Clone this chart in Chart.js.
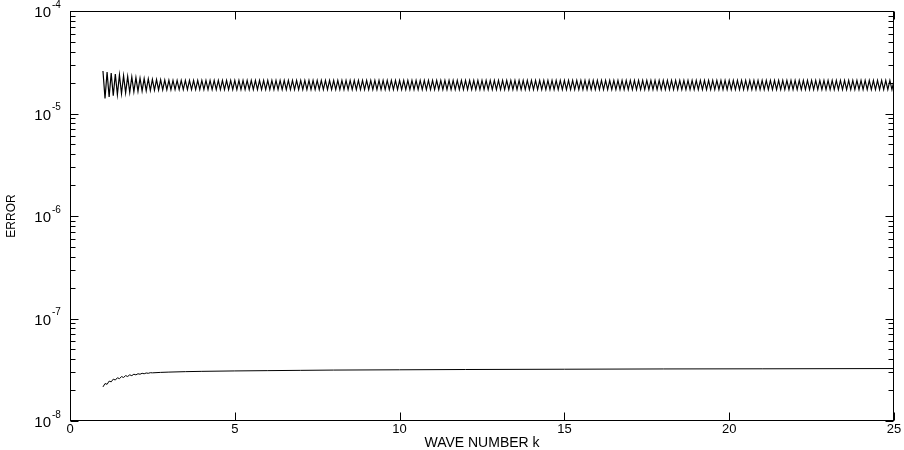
<!DOCTYPE html>
<html>
<head>
<meta charset="utf-8">
<script src="https://cdn.jsdelivr.net/npm/chart.js@4.4.1/dist/chart.umd.min.js"></script>
<style>
  html, body { margin: 0; padding: 0; background: #fff; }
  canvas { display: block; }
</style>
</head>
<body>
<canvas id="myChart" width="904" height="450"></canvas>
<script>
// upper curve: error sampled every 0.0625 in k, starting at k = 1
const kStart = 1;
const kStep = 0.0625;
const errUpper = [
  2.60e-5, 1.40e-5, 2.54e-5, 1.45e-5, 2.48e-5, 1.49e-5, 2.43e-5, 1.53e-5,
  2.38e-5, 1.56e-5, 2.34e-5, 1.59e-5, 2.30e-5, 1.61e-5, 2.27e-5, 1.63e-5,
  2.24e-5, 1.65e-5, 2.21e-5, 1.66e-5, 2.19e-5, 1.67e-5, 2.17e-5, 1.68e-5,
  2.15e-5, 1.69e-5, 2.14e-5, 1.70e-5, 2.13e-5, 1.70e-5, 2.12e-5, 1.71e-5,
  2.11e-5, 1.71e-5,
  2.10e-5, 1.71e-5, 2.10e-5, 1.71e-5, 2.10e-5, 1.71e-5, 2.10e-5, 1.71e-5, 2.10e-5, 1.71e-5, 2.10e-5, 1.71e-5, 2.10e-5, 1.71e-5, 2.10e-5, 1.71e-5,
  2.10e-5, 1.71e-5, 2.10e-5, 1.71e-5, 2.10e-5, 1.71e-5, 2.10e-5, 1.71e-5, 2.10e-5, 1.71e-5, 2.10e-5, 1.71e-5, 2.10e-5, 1.71e-5, 2.10e-5, 1.71e-5,
  2.10e-5, 1.71e-5, 2.10e-5, 1.71e-5, 2.10e-5, 1.71e-5, 2.10e-5, 1.71e-5, 2.10e-5, 1.71e-5, 2.10e-5, 1.71e-5, 2.10e-5, 1.71e-5, 2.10e-5, 1.71e-5,
  2.10e-5, 1.71e-5, 2.10e-5, 1.71e-5, 2.10e-5, 1.71e-5, 2.10e-5, 1.71e-5, 2.10e-5, 1.71e-5, 2.10e-5, 1.71e-5, 2.10e-5, 1.71e-5, 2.10e-5, 1.71e-5,
  2.10e-5, 1.71e-5, 2.10e-5, 1.71e-5, 2.10e-5, 1.71e-5, 2.10e-5, 1.71e-5, 2.10e-5, 1.71e-5, 2.10e-5, 1.71e-5, 2.10e-5, 1.71e-5, 2.10e-5, 1.71e-5,
  2.10e-5, 1.71e-5, 2.10e-5, 1.71e-5, 2.10e-5, 1.71e-5, 2.10e-5, 1.71e-5, 2.10e-5, 1.71e-5, 2.10e-5, 1.71e-5, 2.10e-5, 1.71e-5, 2.10e-5, 1.71e-5,
  2.10e-5, 1.71e-5, 2.10e-5, 1.71e-5, 2.10e-5, 1.71e-5, 2.10e-5, 1.71e-5, 2.10e-5, 1.71e-5, 2.10e-5, 1.71e-5, 2.10e-5, 1.71e-5, 2.10e-5, 1.71e-5,
  2.10e-5, 1.71e-5, 2.10e-5, 1.71e-5, 2.10e-5, 1.71e-5, 2.10e-5, 1.71e-5, 2.10e-5, 1.71e-5, 2.10e-5, 1.71e-5, 2.10e-5, 1.71e-5, 2.10e-5, 1.71e-5,
  2.10e-5, 1.71e-5, 2.10e-5, 1.71e-5, 2.10e-5, 1.71e-5, 2.10e-5, 1.71e-5, 2.10e-5, 1.71e-5, 2.10e-5, 1.71e-5, 2.10e-5, 1.71e-5, 2.10e-5, 1.71e-5,
  2.10e-5, 1.71e-5, 2.10e-5, 1.71e-5, 2.10e-5, 1.71e-5, 2.10e-5, 1.71e-5, 2.10e-5, 1.71e-5, 2.10e-5, 1.71e-5, 2.10e-5, 1.71e-5, 2.10e-5, 1.71e-5,
  2.10e-5, 1.71e-5, 2.10e-5, 1.71e-5, 2.10e-5, 1.71e-5, 2.10e-5, 1.71e-5, 2.10e-5, 1.71e-5, 2.10e-5, 1.71e-5, 2.10e-5, 1.71e-5, 2.10e-5, 1.71e-5,
  2.10e-5, 1.71e-5, 2.10e-5, 1.71e-5, 2.10e-5, 1.71e-5, 2.10e-5, 1.71e-5, 2.10e-5, 1.71e-5, 2.10e-5, 1.71e-5, 2.10e-5, 1.71e-5, 2.10e-5, 1.71e-5,
  2.10e-5, 1.71e-5, 2.10e-5, 1.71e-5, 2.10e-5, 1.71e-5, 2.10e-5, 1.71e-5, 2.10e-5, 1.71e-5, 2.10e-5, 1.71e-5, 2.10e-5, 1.71e-5, 2.10e-5, 1.71e-5,
  2.10e-5, 1.71e-5, 2.10e-5, 1.71e-5, 2.10e-5, 1.71e-5, 2.10e-5, 1.71e-5, 2.10e-5, 1.71e-5, 2.10e-5, 1.71e-5, 2.10e-5, 1.71e-5, 2.10e-5, 1.71e-5,
  2.10e-5, 1.71e-5, 2.10e-5, 1.71e-5, 2.10e-5, 1.71e-5, 2.10e-5, 1.71e-5, 2.10e-5, 1.71e-5, 2.10e-5, 1.71e-5, 2.10e-5, 1.71e-5, 2.10e-5, 1.71e-5,
  2.10e-5, 1.71e-5, 2.10e-5, 1.71e-5, 2.10e-5, 1.71e-5, 2.10e-5, 1.71e-5, 2.10e-5, 1.71e-5, 2.10e-5, 1.71e-5, 2.10e-5, 1.71e-5, 2.10e-5, 1.71e-5,
  2.10e-5, 1.71e-5, 2.10e-5, 1.71e-5, 2.10e-5, 1.71e-5, 2.10e-5, 1.71e-5, 2.10e-5, 1.71e-5, 2.10e-5, 1.71e-5, 2.10e-5, 1.71e-5, 2.10e-5, 1.71e-5,
  2.10e-5, 1.71e-5, 2.10e-5, 1.71e-5, 2.10e-5, 1.71e-5, 2.10e-5, 1.71e-5, 2.10e-5, 1.71e-5, 2.10e-5, 1.71e-5, 2.10e-5, 1.71e-5, 2.10e-5, 1.71e-5,
  2.10e-5, 1.71e-5, 2.10e-5, 1.71e-5, 2.10e-5, 1.71e-5, 2.10e-5, 1.71e-5, 2.10e-5, 1.71e-5, 2.10e-5, 1.71e-5, 2.10e-5, 1.71e-5, 2.10e-5, 1.71e-5,
  2.10e-5, 1.71e-5, 2.10e-5, 1.71e-5, 2.10e-5, 1.71e-5, 2.10e-5, 1.71e-5, 2.10e-5, 1.71e-5, 2.10e-5, 1.71e-5, 2.10e-5, 1.71e-5, 2.10e-5, 1.71e-5,
  2.10e-5, 1.71e-5, 2.10e-5, 1.71e-5, 2.10e-5, 1.71e-5, 2.10e-5, 1.71e-5, 2.10e-5, 1.71e-5, 2.10e-5, 1.71e-5, 2.10e-5, 1.71e-5, 2.10e-5, 1.71e-5,
  2.10e-5, 1.71e-5, 2.10e-5, 1.71e-5, 2.10e-5, 1.71e-5, 2.10e-5, 1.71e-5, 2.10e-5, 1.71e-5, 2.10e-5, 1.71e-5, 2.10e-5, 1.71e-5,
  2.10e-5
];

// lower curve
const kLower = [
  1, 1.0625, 1.125, 1.1875, 1.25, 1.3125, 1.375, 1.4375, 1.5, 1.5625,
  1.625, 1.6875, 1.75, 1.8125, 1.875, 1.9375, 2, 2.0625, 2.125, 2.1875,
  2.25, 2.3125, 2.375, 2.4375, 2.5, 2.75, 3, 3.5, 4, 5,
  6, 7, 8, 10, 12, 15, 18, 21, 25
];
const errLower = [
  2.15e-8, 2.32e-8, 2.28e-8, 2.45e-8, 2.41e-8, 2.56e-8, 2.51e-8, 2.64e-8, 2.59e-8, 2.71e-8,
  2.66e-8, 2.77e-8, 2.72e-8, 2.82e-8, 2.77e-8, 2.86e-8, 2.82e-8, 2.89e-8, 2.86e-8, 2.92e-8,
  2.89e-8, 2.94e-8, 2.92e-8, 2.96e-8, 2.95e-8, 2.98e-8, 3.00e-8, 3.03e-8, 3.05e-8, 3.08e-8,
  3.10e-8, 3.12e-8, 3.14e-8, 3.16e-8, 3.18e-8, 3.20e-8, 3.22e-8, 3.23e-8, 3.25e-8
];

// axis ticks
const xTickValues = [0, 5, 10, 15, 20, 25];
const yExponents = [-8, -7, -6, -5, -4];
const yMinorMult = [2, 3, 4, 5, 6, 7, 8, 9];

const upperPoints = errUpper.map((v, i) => ({ x: kStart + i * kStep, y: v }));
const lowerPoints = kLower.map((k, i) => ({ x: k, y: errLower[i] }));

const FONT = '"Liberation Sans", Arial, Helvetica, sans-serif';

// matlab style box with inward ticks and 10^n labels
const boxTicks = {
  id: 'boxTicks',
  afterDatasetsDraw(chart) {
    const { ctx, chartArea: a, scales: { x, y } } = chart;
    const L = Math.round(a.left) + 0.5, R = Math.round(a.right) - 0.5;
    const T = Math.round(a.top) + 0.5, B = Math.round(a.bottom) - 0.5;
    ctx.save();
    ctx.strokeStyle = '#000';
    ctx.lineWidth = 1;
    ctx.beginPath();
    xTickValues.forEach(v => {
      const px = Math.round(x.getPixelForValue(v)) + 0.5;
      ctx.moveTo(px, B); ctx.lineTo(px, B - 8);
      ctx.moveTo(px, T); ctx.lineTo(px, T + 8);
    });
    yExponents.forEach(e => {
      const py = Math.round(y.getPixelForValue(Math.pow(10, e))) + 0.5;
      ctx.moveTo(L, py); ctx.lineTo(L + 8, py);
      ctx.moveTo(R, py); ctx.lineTo(R - 8, py);
      if (e === -4) return;
      yMinorMult.forEach(m => {
        const pm = Math.round(y.getPixelForValue(m * Math.pow(10, e))) + 0.5;
        ctx.moveTo(L, pm); ctx.lineTo(L + 5, pm);
        ctx.moveTo(R, pm); ctx.lineTo(R - 5, pm);
      });
    });
    ctx.stroke();
    ctx.strokeRect(L, T, R - L, B - T);

    // y tick labels 10^n
    ctx.fillStyle = '#000';
    yExponents.forEach(e => {
      const py = y.getPixelForValue(Math.pow(10, e));
      ctx.font = '15px ' + FONT;
      ctx.textAlign = 'right';
      ctx.textBaseline = 'middle';
      ctx.fillText('10', 51, py + 2);
      ctx.font = '10px ' + FONT;
      ctx.textAlign = 'left';
      ctx.fillText('-' + (-e), 52, py - 6);
    });
    ctx.restore();
  }
};

new Chart(document.getElementById('myChart'), {
  type: 'line',
  data: {
    datasets: [
      { data: upperPoints, borderColor: '#000', borderWidth: 1.2, pointRadius: 0, tension: 0 },
      { data: lowerPoints, borderColor: '#000', borderWidth: 1, pointRadius: 0, tension: 0 }
    ]
  },
  options: {
    responsive: false,
    animation: false,
    devicePixelRatio: 1,
    layout: { padding: { top: 11, right: 10, left: 0, bottom: 0 } },
    plugins: { legend: { display: false }, tooltip: { enabled: false } },
    scales: {
      x: {
        type: 'linear',
        min: 0,
        max: 25,
        grid: { display: false, drawTicks: false },
        border: { display: false },
        afterBuildTicks: s => { s.ticks = xTickValues.map(v => ({ value: v })); },
        afterFit: s => { s.height = 29; },
        ticks: { color: '#000', padding: 2, maxRotation: 0, font: { family: FONT, size: 13, lineHeight: 1 } },
        title: { display: true, text: 'WAVE NUMBER k', color: '#000', padding: 0, font: { family: FONT, size: 14, lineHeight: 1 } }
      },
      y: {
        type: 'logarithmic',
        min: 1e-8,
        max: 1e-4,
        grid: { display: false, drawTicks: false },
        border: { display: false },
        ticks: { display: false },
        afterFit: s => { s.width = 70; },
        title: { display: true, text: 'ERROR', color: '#000', padding: { top: 4, bottom: 0 }, font: { family: FONT, size: 12 } }
      }
    }
  },
  plugins: [boxTicks]
});
</script>
</body>
</html>
